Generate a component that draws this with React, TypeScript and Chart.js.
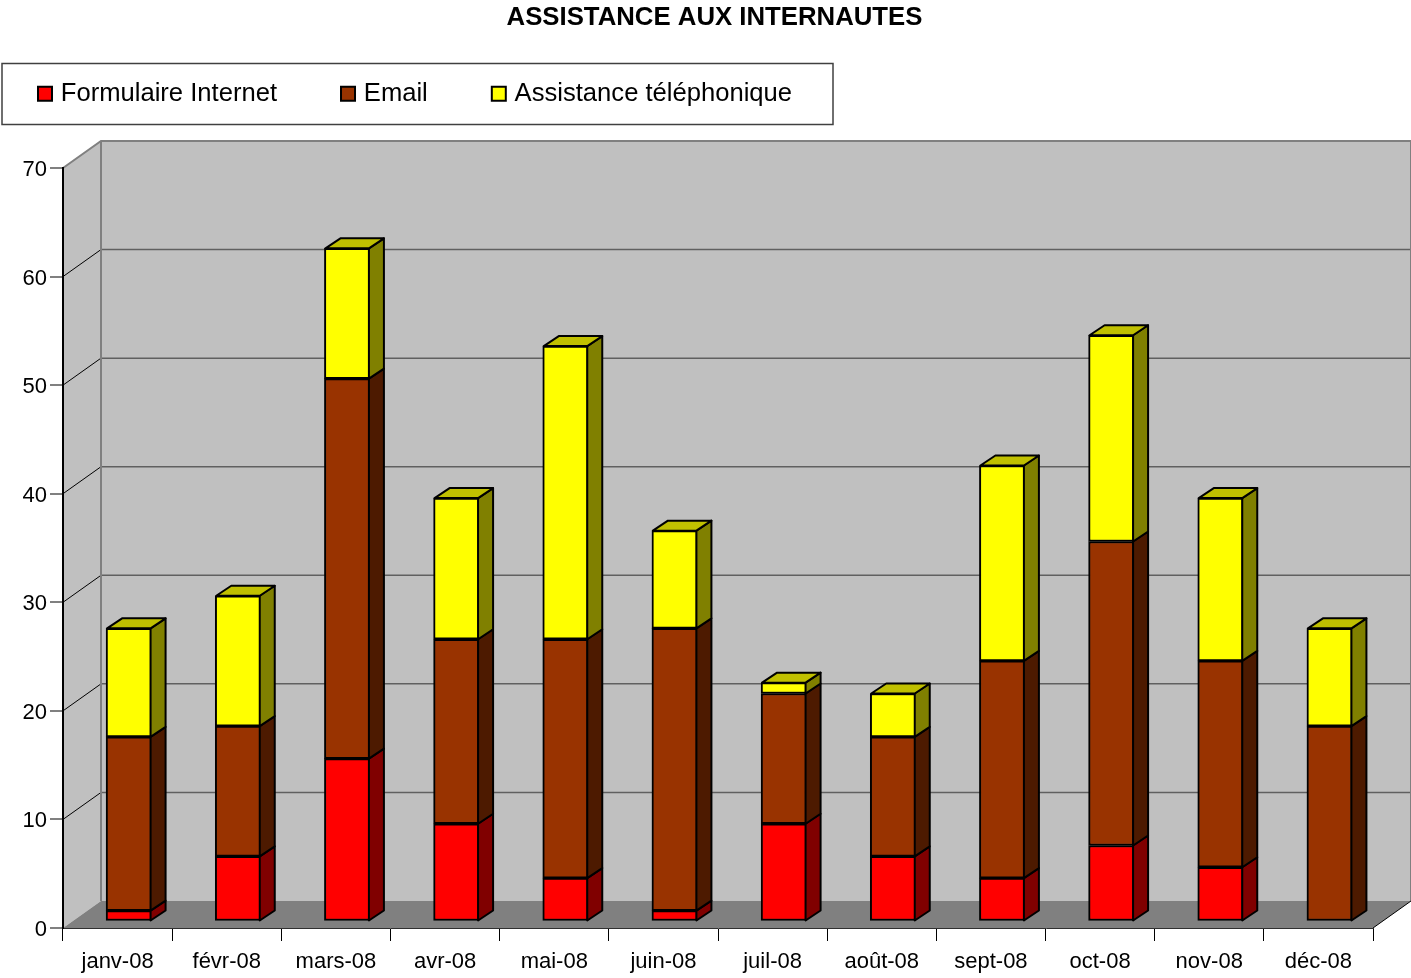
import React, { useEffect, useRef } from "react";
import { Chart, registerables } from "chart.js";

Chart.register(...registerables);

const months = ["janv-08", "févr-08", "mars-08", "avr-08", "mai-08", "juin-08", "juil-08", "août-08", "sept-08", "oct-08", "nov-08", "déc-08"];
const formulaire = [1, 6, 15, 9, 4, 1, 9, 6, 4, 7, 5, 0];
const email = [16, 12, 35, 17, 22, 26, 12, 11, 20, 28, 19, 18];
const assistance = [10, 12, 12, 13, 27, 9, 1, 4, 18, 19, 15, 9];

const FONT = "'Liberation Sans', Arial, sans-serif";
const WALL = { dx: 38, dy: -27 };
const BAR_PLANE = { dx: 11.25, dy: -6.5 };
const BAR_DEPTH = { dx: 15, dy: -10 };
const sideColors = ["#800000", "#4d1a00", "#808000"];
const capColor = "#c0c000";

function poly(ctx: CanvasRenderingContext2D, pts: number[][], fill?: string, stroke?: string, lw = 1) {
  ctx.beginPath();
  pts.forEach(([x, y], i) => (i ? ctx.lineTo(x, y) : ctx.moveTo(x, y)));
  ctx.closePath();
  if (fill) {
    ctx.fillStyle = fill;
    ctx.fill();
  }
  if (stroke) {
    ctx.strokeStyle = stroke;
    ctx.lineWidth = lw;
    ctx.lineJoin = "round";
    ctx.stroke();
  }
}

const box3d = {
  id: "box3d",
  afterLayout(chart: any) {
    chart.legend.left = -26;
    chart.legend.top = 13;
    chart.titleBlock.left += 28;
    chart.titleBlock.right += 28;
    chart.titleBlock.top += 1;
    chart.titleBlock.bottom += 1;
  },
  beforeDraw(chart: any) {
    const { ctx, chartArea: a, scales } = chart;
    const y = scales.y;
    const { dx, dy } = WALL;
    ctx.save();
    // legend frame
    ctx.strokeStyle = "#404040";
    ctx.lineWidth = 1.5;
    ctx.strokeRect(2, 63.5, 831, 61);
    // walls and floor
    poly(ctx, [[a.left, a.top], [a.left + dx, a.top + dy], [a.left + dx, a.bottom + dy], [a.left, a.bottom]], "#c0c0c0");
    poly(ctx, [[a.left + dx, a.top + dy], [a.right + dx, a.top + dy], [a.right + dx, a.bottom + dy], [a.left + dx, a.bottom + dy]], "#c0c0c0");
    poly(ctx, [[a.left, a.bottom], [a.left + dx, a.bottom + dy], [a.right + dx, a.bottom + dy], [a.right, a.bottom]], "#808080");
    // gridlines on walls
    (y.ticks as any[]).forEach((t) => {
      if (t.value === 0 || t.value === 70) return;
      const py = y.getPixelForValue(t.value);
      ctx.beginPath();
      ctx.moveTo(a.left, py);
      ctx.lineTo(a.left + dx, py + dy);
      ctx.strokeStyle = "#000000";
      ctx.lineWidth = 1;
      ctx.stroke();
      ctx.beginPath();
      ctx.moveTo(a.left + dx, py + dy);
      ctx.lineTo(a.right + dx, py + dy);
      ctx.strokeStyle = "#606060";
      ctx.lineWidth = 1.5;
      ctx.stroke();
    });
    // wall edges
    ctx.strokeStyle = "#808080";
    ctx.lineWidth = 2;
    ctx.beginPath();
    ctx.moveTo(a.left, a.top);
    ctx.lineTo(a.left + dx, a.top + dy);
    ctx.lineTo(a.right + dx, a.top + dy);
    ctx.lineTo(a.right + dx, a.bottom + dy);
    ctx.moveTo(a.left + dx, a.top + dy);
    ctx.lineTo(a.left + dx, a.bottom + dy);
    ctx.stroke();
    ctx.strokeStyle = "#000000";
    ctx.lineWidth = 1;
    ctx.beginPath();
    ctx.moveTo(a.right, a.bottom);
    ctx.lineTo(a.right + dx, a.bottom + dy);
    ctx.stroke();
    ctx.restore();
  },
  beforeDatasetsDraw(chart: any) {
    chart.ctx.save();
    chart.ctx.translate(BAR_PLANE.dx, BAR_PLANE.dy);
  },
  afterDatasetsDraw(chart: any) {
    const { ctx } = chart;
    const { dx, dy } = BAR_DEPTH;
    const n = chart.data.labels.length;
    for (let i = 0; i < n; i++) {
      let topBar: any = null;
      chart.data.datasets.forEach((_: any, d: number) => {
        const el: any = chart.getDatasetMeta(d).data[i];
        if (Math.abs(el.base - el.y) < 0.5) return;
        const r = el.x + el.width / 2 - 1;
        poly(ctx, [[r, el.y], [r + dx, el.y + dy], [r + dx, el.base + dy], [r, el.base]], sideColors[d], "#000000", 2);
        topBar = el;
      });
      if (topBar) {
        const l = topBar.x - topBar.width / 2 + 1;
        const r = topBar.x + topBar.width / 2 - 1;
        const py = topBar.y;
        poly(ctx, [[l, py], [l + dx, py + dy], [r + dx, py + dy], [r, py]], capColor, "#000000", 2);
      }
    }
    ctx.restore();
  },
};

export default function App() {
  const ref = useRef<HTMLCanvasElement>(null);
  useEffect(() => {
    document.body.style.margin = "0";
    const mk = (label: string, data: number[], color: string) => ({
      label,
      data,
      backgroundColor: color,
      borderColor: "#000000",
      borderWidth: 2,
      borderSkipped: false,
      barThickness: 45.5,
      clip: false,
    });
    const chart = new Chart(ref.current as HTMLCanvasElement, {
      type: "bar",
      data: {
        labels: months,
        datasets: [
          mk("Formulaire Internet", formulaire, "#ff0000"),
          mk("Email", email, "#993300"),
          mk("Assistance téléphonique", assistance, "#ffff00"),
        ],
      },
      plugins: [box3d],
      options: {
        animation: false,
        responsive: false,
        devicePixelRatio: 1,
        layout: { padding: { left: 0, right: 38, top: 0, bottom: 0 } },
        plugins: {
          title: {
            display: true,
            text: "ASSISTANCE AUX INTERNAUTES",
            color: "#000000",
            font: { family: FONT, size: 25.75, weight: "bold" },
            padding: { top: 1, bottom: 32.5 },
          },
          legend: {
            display: true,
            position: "top",
            align: "start",
            labels: {
              color: "#000000",
              font: { family: FONT, size: 25.6 },
              usePointStyle: true,
              pointStyle: "rect",
              boxHeight: 14,
              boxWidth: 6,
              padding: 68,
            },
          },
          tooltip: { enabled: false },
        },
        scales: {
          x: {
            stacked: true,
            grid: { drawOnChartArea: false, drawTicks: true, tickLength: 13, tickColor: "#000000", lineWidth: 1 },
            border: { color: "#303030", width: 1 },
            ticks: { color: "#000000", font: { family: FONT, size: 22 }, padding: 8, maxRotation: 0, autoSkip: false },
            afterFit: (s: any) => {
              s.height = 50;
            },
          },
          y: {
            stacked: true,
            min: 0,
            max: 70,
            grid: { drawOnChartArea: false, drawTicks: true, tickLength: 13, tickColor: "#808080", lineWidth: 2 },
            border: { color: "#000000", width: 2 },
            ticks: { color: "#000000", font: { family: FONT, size: 22 }, padding: 3, stepSize: 10, labelOffset: 2 },
            afterFit: (s: any) => {
              s.width = 63;
            },
          },
        },
      } as any,
    });
    return () => chart.destroy();
  }, []);
  return <canvas ref={ref} width={1411} height={978} style={{ display: "block", width: 1411, height: 978 }} />;
}
